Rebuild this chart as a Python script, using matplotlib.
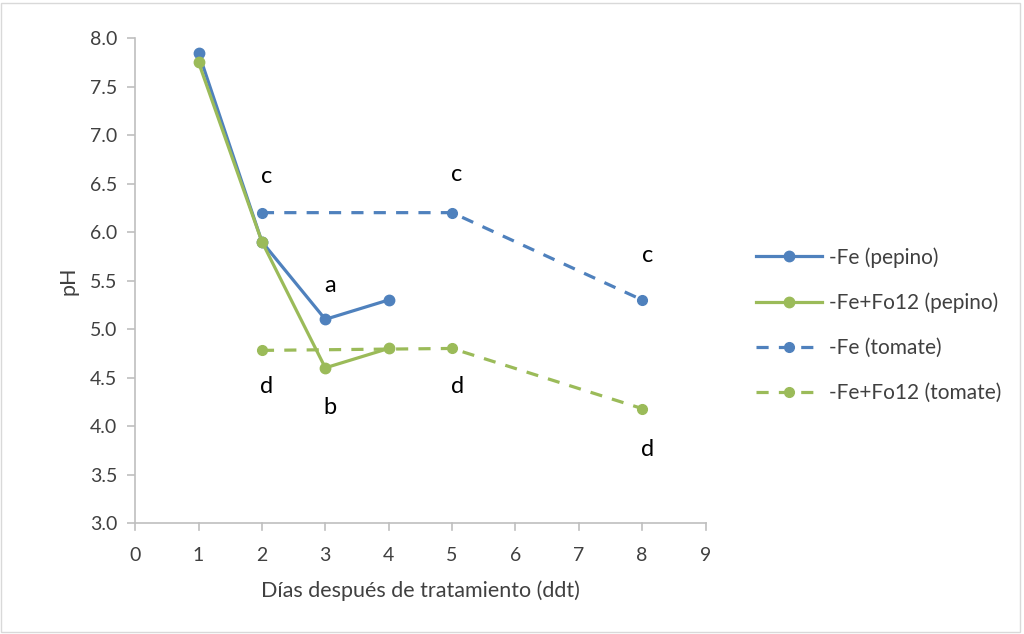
import matplotlib
matplotlib.use("Agg")
import matplotlib.pyplot as plt
from matplotlib.patches import Rectangle

plt.rcParams['font.family'] = ['Lato', 'DejaVu Sans']

# Days after treatment
dias_pepino = [1, 2, 3, 4]
dias_tomate = [2, 5, 8]

# pH values
fe_pepino = [7.85, 5.9, 5.1, 5.3]
fe_fo12_pepino = [7.75, 5.9, 4.6, 4.8]
fe_tomate = [6.2, 6.2, 5.3]
fe_fo12_tomate = [4.78, 4.8, 4.18]

# Significance letters (x, y, text)
letras_x = [2, 5, 8, 3, 3, 2, 5, 8]
letras_y = [6.57, 6.59, 5.76, 5.45, 4.19, 4.41, 4.41, 3.76]
letras = ['c', 'c', 'c', 'a', 'b', 'd', 'd', 'd']

x_ticks = list(range(0, 10))
y_ticks = [3.0, 3.5, 4.0, 4.5, 5.0, 5.5, 6.0, 6.5, 7.0, 7.5, 8.0]

azul = '#4F81BD'
verde = '#9BBB59'
gris = '#BFBFBF'
texto = '#404040'

fig = plt.figure(figsize=(10.24, 6.34), dpi=100)
ax = fig.add_axes([0.132, 0.175, 0.557, 0.765])

ax.plot(dias_pepino, fe_pepino, color=azul, lw=2.3, marker='o', ms=7.5,
        label='-Fe (pepino)', zorder=4)
ax.plot(dias_pepino, fe_fo12_pepino, color=verde, lw=2.3, marker='o', ms=7.5,
        label='-Fe+Fo12 (pepino)', zorder=4)
ax.plot(dias_tomate, fe_tomate, color=azul, lw=2.3, marker='o', ms=7,
        dashes=(3.8, 3.2), label='-Fe (tomate)', zorder=3)
ax.plot(dias_tomate, fe_fo12_tomate, color=verde, lw=2.3, marker='o', ms=7,
        dashes=(3.8, 3.2), label='-Fe+Fo12 (tomate)', zorder=3)

for x, y, t in zip(letras_x, letras_y, letras):
    ax.text(x + 0.08, y, t, ha='center', va='center', fontsize=17, color='black')

ax.set_xlim(0, 9)
ax.set_ylim(3.0, 8.0)
ax.set_xticks(x_ticks)
ax.set_yticks(y_ticks)
ax.set_yticklabels([f'{v:.1f}' for v in y_ticks])
ax.tick_params(axis='both', labelsize=14, colors=texto, width=1.2, color=gris)
ax.tick_params(axis='x', length=0, pad=17)
for x in x_ticks:
    ax.plot([x, x], [3.0, 2.93], color=gris, lw=1.2, clip_on=False, zorder=1)
ax.tick_params(axis='y', direction='out', length=6, pad=7)

for s in ['top', 'right']:
    ax.spines[s].set_visible(False)
for s in ['left', 'bottom']:
    ax.spines[s].set_color(gris)
    ax.spines[s].set_linewidth(1.2)

ax.set_xlabel('Días después de tratamiento (ddt)', fontsize=15.5, color=texto, labelpad=12)
ax.set_ylabel('pH', fontsize=15.5, color=texto, labelpad=8)

leg = ax.legend(loc='center left', bbox_to_anchor=(1.055, 0.408), frameon=False,
                fontsize=15, handlelength=3.2, labelspacing=1.2, handletextpad=0.3)
for t in leg.get_texts():
    t.set_color(texto)

fig.patches.append(Rectangle((0.001, 0.003), 0.995, 0.993, transform=fig.transFigure,
                             fill=False, edgecolor='#D9D9D9', lw=1.0))

fig.savefig('out.png', dpi=100)
